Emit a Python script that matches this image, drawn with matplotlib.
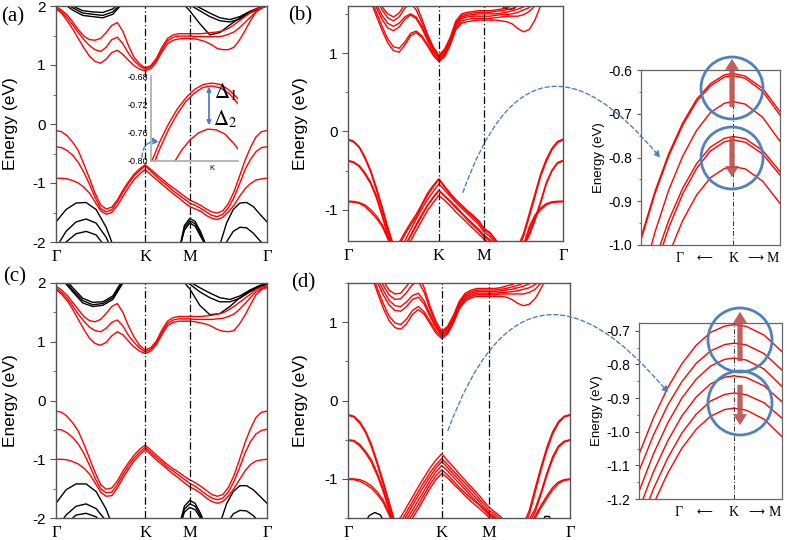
import matplotlib
matplotlib.use("Agg")
import matplotlib.pyplot as plt
from matplotlib.patches import Ellipse, FancyArrowPatch
from matplotlib.ticker import MultipleLocator, FormatStrFormatter

plt.rcParams["font.family"] = ["Liberation Sans", "DejaVu Sans"]
plt.rcParams["axes.unicode_minus"] = False
plt.rcParams["mathtext.fontset"] = "stix"

# k-path Γ-K-M-Γ
K_PATH = [0.0, 0.083, 0.167, 0.25, 0.333, 0.417, 0.5, 0.583, 0.667, 0.75, 0.833, 0.917, 1.0,
          1.083, 1.167, 1.25, 1.333,
          1.417, 1.5, 1.583, 1.667, 1.75, 1.833, 1.917, 2.0,
          2.0825, 2.165, 2.2475, 2.33, 2.4125, 2.495, 2.5775, 2.66, 2.7425, 2.825, 2.9075,
          2.99, 3.0725, 3.155]
K_SYM = [0.0, 1.333, 2.0, 3.155]
SYM_LABELS = ["Γ", "K", "M", "Γ"]

# ---- panel (a) ----
a_v1 = [-0.11, -0.13, -0.20, -0.31, -0.45, -0.68, -0.92, -1.17, -1.37, -1.44, -1.41, -1.29, -1.12, -0.98, -0.85, -0.76, -0.69,
        -0.77, -0.85, -0.93, -1.01, -1.08, -1.15, -1.22, -1.29,
        -1.33, -1.38, -1.44, -1.49, -1.51, -1.47, -1.35, -1.15, -0.89, -0.62, -0.40, -0.22, -0.13, -0.11]
a_v2 = [-0.385, -0.40, -0.45, -0.53, -0.65, -0.82, -1.02, -1.24, -1.43, -1.49, -1.45, -1.32, -1.16, -1.01, -0.88, -0.79, -0.71,
        -0.80, -0.89, -0.97, -1.05, -1.13, -1.20, -1.27, -1.34,
        -1.38, -1.43, -1.49, -1.55, -1.57, -1.53, -1.42, -1.25, -1.02, -0.78, -0.60, -0.47, -0.40, -0.385]
a_v3 = [-0.92, -0.92, -0.93, -0.96, -1.00, -1.07, -1.17, -1.32, -1.47, -1.53, -1.50, -1.38, -1.23, -1.08, -0.94, -0.85, -0.77,
        -0.86, -0.94, -1.02, -1.10, -1.18, -1.25, -1.33, -1.40,
        -1.44, -1.48, -1.55, -1.60, -1.62, -1.58, -1.49, -1.38, -1.23, -1.10, -1.01, -0.95, -0.93, -0.92]
a_c1 = [1.95, 1.88, 1.75, 1.61, 1.45, 1.29, 1.15, 1.06, 1.03, 1.10, 1.21, 1.25, 1.18, 1.08, 0.99, 0.93, 0.90,
        0.94, 1.05, 1.22, 1.36, 1.42, 1.44, 1.45, 1.45,
        1.44, 1.42, 1.39, 1.34, 1.28, 1.26, 1.26, 1.30, 1.42, 1.58, 1.75, 1.90, 1.98, 2.03]
a_c2 = [1.97, 1.90, 1.80, 1.68, 1.55, 1.43, 1.33, 1.26, 1.23, 1.30, 1.43, 1.47, 1.36, 1.20, 1.07, 0.98, 0.93,
        0.97, 1.08, 1.26, 1.41, 1.47, 1.49, 1.49, 1.49,
        1.48, 1.48, 1.48, 1.48, 1.48, 1.49, 1.52, 1.56, 1.63, 1.72, 1.81, 1.90, 1.96, 2.00]
a_c3 = [1.99, 1.93, 1.85, 1.73, 1.60, 1.49, 1.43, 1.42, 1.45, 1.55, 1.67, 1.72, 1.57, 1.33, 1.13, 1.02, 0.95,
        0.99, 1.11, 1.30, 1.45, 1.51, 1.53, 1.53, 1.53,
        1.53, 1.53, 1.54, 1.55, 1.56, 1.58, 1.62, 1.68, 1.75, 1.82, 1.89, 1.95, 1.98, 2.00]

k_top_left = [0.1, 0.25, 0.4, 0.55, 0.7, 0.85, 1.0]
k_top_right = [1.85, 2.0, 2.15, 2.3, 2.45, 2.6, 2.75, 2.9, 3.05, 3.155]
k_bot_left = [0.0, 0.15, 0.3, 0.45, 0.6, 0.75, 0.9]
k_bot_mid = [1.85, 1.92, 2.0, 2.08, 2.16, 2.26]
k_bot_right = [2.45, 2.55, 2.65, 2.75, 2.85, 2.95, 3.05, 3.155]

a_tl1 = [2.05, 1.93, 1.84, 1.82, 1.80, 1.86, 2.05]
a_tl2 = [2.08, 1.97, 1.88, 1.86, 1.84, 1.90, 2.08]
a_tl3 = [2.12, 2.00, 1.92, 1.90, 1.89, 1.95, 2.12]
a_tr1 = [2.10, 1.92, 1.70, 1.51, 1.55, 1.68, 1.80, 1.90, 1.97, 2.00]
a_tr2 = [2.12, 2.02, 1.92, 1.82, 1.75, 1.73, 1.78, 1.88, 1.96, 2.00]
a_tr3 = [2.15, 2.05, 1.97, 1.88, 1.80, 1.77, 1.82, 1.91, 1.98, 2.02]
a_bl1 = [-1.66, -1.45, -1.34, -1.33, -1.45, -1.75, -2.2]
a_bl2 = [-2.10, -1.82, -1.66, -1.61, -1.68, -1.92, -2.3]
a_bl3 = [-2.30, -2.00, -1.86, -1.82, -1.88, -2.10, -2.4]
a_bm1 = [-2.1, -1.72, -1.60, -1.65, -1.82, -2.1]
a_bm2 = [-2.1, -1.76, -1.64, -1.69, -1.86, -2.1]
a_bm3 = [-2.1, -1.80, -1.68, -1.73, -1.90, -2.1]
a_br1 = [-2.05, -1.68, -1.45, -1.34, -1.33, -1.40, -1.53, -1.66]
a_br2 = [-2.30, -2.00, -1.82, -1.75, -1.76, -1.85, -1.98, -2.10]

# inset of (a): valence top at K
ia_x1 = [0.01, 0.1, 0.2, 0.3, 0.4, 0.5, 0.6, 0.7, 0.8, 0.9, 1.0]
ia_e1 = [-0.800, -0.773, -0.748, -0.727, -0.711, -0.699, -0.692, -0.690, -0.692, -0.700, -0.712]
ia_x2 = [0.046, 0.1, 0.2, 0.3, 0.4, 0.5, 0.6, 0.7, 0.8, 0.9, 1.0]
ia_e2 = [-0.800, -0.783, -0.756, -0.734, -0.716, -0.704, -0.696, -0.694, -0.697, -0.705, -0.719]
ia_x3 = [0.276, 0.35, 0.45, 0.55, 0.65, 0.75, 0.85, 0.95, 1.0]
ia_e3 = [-0.800, -0.785, -0.770, -0.760, -0.755, -0.756, -0.762, -0.775, -0.783]

# ---- panel (b) ----
b_v1 = [-0.10, -0.125, -0.20, -0.33, -0.50, -0.72, -0.96, -1.22, -1.45, -1.42, -1.29, -1.17, -1.06, -0.93, -0.79, -0.69, -0.605,
        -0.70, -0.79, -0.87, -0.94, -1.01, -1.07, -1.14, -1.24,
        -1.29, -1.38, -1.48, -1.53, -1.53, -1.47, -1.30, -1.05, -0.80, -0.55, -0.36, -0.22, -0.13, -0.10]
b_v2 = [-0.11, -0.135, -0.21, -0.35, -0.52, -0.75, -0.99, -1.25, -1.48, -1.46, -1.32, -1.20, -1.09, -0.95, -0.82, -0.71, -0.615,
        -0.715, -0.805, -0.885, -0.955, -1.025, -1.09, -1.16, -1.26,
        -1.31, -1.40, -1.50, -1.56, -1.56, -1.51, -1.34, -1.09, -0.84, -0.58, -0.39, -0.24, -0.145, -0.11]
b_v3 = [-0.37, -0.39, -0.44, -0.53, -0.65, -0.82, -1.05, -1.30, -1.50, -1.52, -1.40, -1.26, -1.12, -0.99, -0.87, -0.77, -0.67,
        -0.75, -0.83, -0.91, -0.98, -1.05, -1.12, -1.19, -1.29,
        -1.34, -1.43, -1.52, -1.58, -1.58, -1.53, -1.44, -1.30, -1.12, -0.90, -0.66, -0.50, -0.40, -0.37]
b_v4 = [-0.38, -0.40, -0.45, -0.55, -0.67, -0.85, -1.08, -1.33, -1.53, -1.56, -1.46, -1.33, -1.19, -1.06, -0.94, -0.84, -0.75,
        -0.82, -0.89, -0.96, -1.04, -1.11, -1.18, -1.25, -1.33,
        -1.38, -1.46, -1.55, -1.61, -1.61, -1.56, -1.47, -1.33, -1.14, -0.92, -0.68, -0.51, -0.41, -0.38]
b_v5 = [-0.89, -0.895, -0.91, -0.94, -1.00, -1.08, -1.19, -1.34, -1.52, -1.57, -1.47, -1.34, -1.21, -1.08, -0.95, -0.85, -0.76,
        -0.83, -0.90, -0.98, -1.05, -1.13, -1.20, -1.27, -1.35,
        -1.40, -1.47, -1.56, -1.63, -1.63, -1.58, -1.45, -1.22, -1.07, -0.98, -0.925, -0.90, -0.893, -0.89]
b_v6 = [-0.90, -0.905, -0.92, -0.96, -1.03, -1.11, -1.21, -1.37, -1.55, -1.61, -1.52, -1.40, -1.27, -1.14, -1.01, -0.91, -0.82,
        -0.88, -0.95, -1.03, -1.10, -1.17, -1.24, -1.31, -1.38,
        -1.43, -1.50, -1.59, -1.66, -1.66, -1.61, -1.48, -1.25, -1.10, -1.00, -0.94, -0.91, -0.903, -0.90]
b_c1 = [2.10, 2.05, 1.95, 1.82, 1.66, 1.47, 1.29, 1.13, 1.03, 1.01, 1.10, 1.22, 1.26, 1.20, 1.09, 0.97, 0.89,
        0.95, 1.10, 1.30, 1.38, 1.40, 1.41, 1.42, 1.42,
        1.42, 1.42, 1.41, 1.40, 1.37, 1.31, 1.27, 1.30, 1.42, 1.60, 1.78, 1.92, 2.00, 2.05]
b_c2 = [2.10, 2.06, 1.97, 1.85, 1.70, 1.52, 1.34, 1.18, 1.08, 1.06, 1.14, 1.25, 1.28, 1.22, 1.11, 0.99, 0.91,
        0.97, 1.12, 1.32, 1.41, 1.43, 1.44, 1.44, 1.44,
        1.44, 1.45, 1.46, 1.47, 1.47, 1.47, 1.49, 1.53, 1.60, 1.68, 1.78, 1.90, 2.00, 2.05]
b_c3 = [2.15, 2.10, 2.02, 1.90, 1.75, 1.58, 1.43, 1.32, 1.285, 1.33, 1.43, 1.485, 1.44, 1.32, 1.16, 1.02, 0.93,
        0.99, 1.14, 1.35, 1.44, 1.46, 1.47, 1.47, 1.47,
        1.47, 1.48, 1.49, 1.49, 1.50, 1.52, 1.55, 1.58, 1.64, 1.72, 1.82, 1.93, 2.02, 2.10]
b_c4 = [2.15, 2.12, 2.05, 1.93, 1.78, 1.62, 1.48, 1.38, 1.34, 1.38, 1.46, 1.50, 1.46, 1.34, 1.18, 1.04, 0.95,
        1.01, 1.16, 1.37, 1.46, 1.48, 1.49, 1.50, 1.50,
        1.50, 1.50, 1.51, 1.52, 1.54, 1.56, 1.59, 1.62, 1.68, 1.76, 1.86, 1.95, 2.04, 2.10]
b_c5 = [2.20, 2.15, 2.08, 1.97, 1.83, 1.68, 1.55, 1.45, 1.41, 1.46, 1.57, 1.64, 1.55, 1.39, 1.21, 1.06, 0.96,
        1.03, 1.18, 1.39, 1.48, 1.50, 1.51, 1.52, 1.52,
        1.52, 1.53, 1.54, 1.55, 1.57, 1.60, 1.63, 1.67, 1.72, 1.80, 1.89, 1.98, 2.06, 2.12]
b_c6 = [2.20, 2.17, 2.10, 2.00, 1.87, 1.72, 1.59, 1.50, 1.46, 1.51, 1.62, 1.71, 1.62, 1.44, 1.24, 1.08, 0.97,
        1.05, 1.20, 1.41, 1.50, 1.52, 1.53, 1.54, 1.54,
        1.54, 1.55, 1.56, 1.58, 1.60, 1.63, 1.67, 1.71, 1.77, 1.85, 1.94, 2.02, 2.10, 2.15]
k_b_black = [2.22, 2.30, 2.37, 2.44, 2.52]
b_black = [1.64, 1.57, 1.555, 1.57, 1.64]

# inset of (b)
inset_x = [0.0, 0.1, 0.2, 0.3, 0.4, 0.5, 0.6, 0.664, 0.75, 0.875, 1.0]
ib_1 = [-0.983, -0.878, -0.791, -0.721, -0.667, -0.631, -0.611, -0.608, -0.614, -0.642, -0.695]
ib_2 = [-0.988, -0.883, -0.796, -0.726, -0.672, -0.636, -0.616, -0.613, -0.619, -0.649, -0.703]
ib_3 = [-1.087, -0.971, -0.874, -0.797, -0.738, -0.697, -0.676, -0.672, -0.678, -0.708, -0.763]
ib_4 = [-1.145, -1.035, -0.943, -0.870, -0.814, -0.776, -0.756, -0.752, -0.757, -0.784, -0.832]
ib_5 = [-1.170, -1.056, -0.960, -0.883, -0.825, -0.785, -0.764, -0.760, -0.765, -0.792, -0.840]
ib_6 = [-1.231, -1.117, -1.021, -0.944, -0.886, -0.846, -0.825, -0.821, -0.826, -0.854, -0.905]

# ---- panel (c) ----
c_v1 = [-0.18, -0.20, -0.27, -0.38, -0.52, -0.74, -0.98, -1.22, -1.43, -1.51, -1.49, -1.37, -1.20, -1.06, -0.93, -0.83, -0.76,
        -0.84, -0.93, -1.01, -1.09, -1.16, -1.22, -1.29, -1.35,
        -1.40, -1.46, -1.53, -1.60, -1.63, -1.60, -1.48, -1.28, -1.01, -0.72, -0.48, -0.29, -0.20, -0.18]
c_v2 = [-0.49, -0.50, -0.55, -0.63, -0.74, -0.90, -1.10, -1.32, -1.50, -1.57, -1.56, -1.43, -1.26, -1.11, -0.98, -0.88, -0.80,
        -0.88, -0.97, -1.05, -1.13, -1.20, -1.27, -1.34, -1.41,
        -1.46, -1.53, -1.60, -1.66, -1.69, -1.66, -1.56, -1.38, -1.15, -0.90, -0.70, -0.57, -0.51, -0.49]
c_v3 = [-1.00, -1.00, -1.01, -1.04, -1.08, -1.15, -1.25, -1.40, -1.56, -1.63, -1.62, -1.49, -1.32, -1.17, -1.03, -0.92, -0.84,
        -0.92, -1.01, -1.09, -1.17, -1.25, -1.32, -1.40, -1.47,
        -1.52, -1.58, -1.66, -1.72, -1.75, -1.72, -1.63, -1.50, -1.35, -1.20, -1.09, -1.03, -1.01, -1.00]
c_c1 = [1.89, 1.81, 1.70, 1.55, 1.38, 1.21, 1.06, 0.97, 0.94, 0.99, 1.10, 1.17, 1.12, 1.01, 0.91, 0.84, 0.80,
        0.84, 0.95, 1.12, 1.27, 1.33, 1.35, 1.35, 1.35,
        1.34, 1.32, 1.30, 1.26, 1.21, 1.18, 1.17, 1.19, 1.30, 1.45, 1.63, 1.80, 1.89, 1.92]
c_c2 = [1.92, 1.84, 1.74, 1.61, 1.47, 1.35, 1.25, 1.19, 1.17, 1.23, 1.33, 1.37, 1.27, 1.11, 0.99, 0.89, 0.83,
        0.87, 0.98, 1.16, 1.31, 1.37, 1.39, 1.39, 1.39,
        1.38, 1.38, 1.38, 1.38, 1.39, 1.40, 1.43, 1.47, 1.55, 1.65, 1.75, 1.85, 1.91, 1.93]
c_c3 = [1.95, 1.88, 1.79, 1.67, 1.55, 1.43, 1.36, 1.34, 1.38, 1.48, 1.60, 1.65, 1.50, 1.27, 1.08, 0.94, 0.86,
        0.90, 1.01, 1.20, 1.35, 1.41, 1.43, 1.43, 1.43,
        1.43, 1.43, 1.44, 1.45, 1.47, 1.49, 1.54, 1.60, 1.67, 1.74, 1.81, 1.89, 1.93, 1.95]
c_tl1 = [2.05, 1.85, 1.66, 1.60, 1.62, 1.72, 2.00]
c_tl2 = [2.08, 1.88, 1.70, 1.63, 1.65, 1.75, 2.03]
c_tl3 = [2.12, 1.92, 1.74, 1.67, 1.68, 1.78, 2.06]
c_tr1 = [2.10, 1.90, 1.62, 1.46, 1.48, 1.60, 1.75, 1.87, 1.95, 1.98]
c_tr2 = [2.12, 1.98, 1.85, 1.75, 1.68, 1.68, 1.74, 1.85, 1.94, 1.98]
c_tr3 = [2.15, 2.02, 1.92, 1.83, 1.75, 1.72, 1.78, 1.88, 1.96, 2.00]
c_bl1 = [-1.75, -1.52, -1.42, -1.42, -1.55, -1.85, -2.3]
c_bl2 = [-2.20, -1.95, -1.80, -1.76, -1.84, -2.05, -2.4]
c_bl3 = [-2.40, -2.10, -1.95, -1.92, -1.98, -2.20, -2.5]
c_bm1 = [-2.10, -1.80, -1.70, -1.75, -1.92, -2.2]
c_bm2 = [-2.10, -1.85, -1.76, -1.80, -1.96, -2.2]
c_bm3 = [-2.15, -1.90, -1.82, -1.86, -2.00, -2.2]
c_br1 = [-2.10, -1.76, -1.55, -1.45, -1.45, -1.52, -1.63, -1.75]
c_br2 = [-2.40, -2.10, -1.93, -1.87, -1.88, -1.96, -2.08, -2.20]

# ---- panel (d) ----
d_v1 = [-0.18, -0.20, -0.27, -0.39, -0.56, -0.79, -1.03, -1.29, -1.55, -1.49, -1.36, -1.23, -1.10, -0.98, -0.86, -0.76, -0.68,
        -0.77, -0.85, -0.94, -1.02, -1.10, -1.18, -1.27, -1.36,
        -1.42, -1.48, -1.56, -1.62, -1.63, -1.58, -1.40, -1.12, -0.85, -0.60, -0.40, -0.27, -0.20, -0.18]
d_v2 = [-0.19, -0.21, -0.29, -0.41, -0.59, -0.82, -1.07, -1.33, -1.58, -1.55, -1.42, -1.29, -1.16, -1.04, -0.92, -0.82, -0.74,
        -0.82, -0.90, -0.98, -1.06, -1.14, -1.22, -1.31, -1.40,
        -1.45, -1.51, -1.59, -1.65, -1.66, -1.62, -1.45, -1.17, -0.89, -0.64, -0.43, -0.29, -0.21, -0.19]
d_v3 = [-0.50, -0.51, -0.56, -0.65, -0.76, -0.93, -1.13, -1.37, -1.60, -1.59, -1.47, -1.34, -1.21, -1.09, -0.97, -0.86, -0.78,
        -0.86, -0.94, -1.02, -1.10, -1.18, -1.26, -1.35, -1.43,
        -1.48, -1.54, -1.62, -1.68, -1.69, -1.65, -1.52, -1.38, -1.17, -0.93, -0.72, -0.58, -0.52, -0.50]
d_v4 = [-0.51, -0.52, -0.58, -0.67, -0.79, -0.96, -1.16, -1.40, -1.63, -1.63, -1.52, -1.40, -1.27, -1.15, -1.02, -0.91, -0.83,
        -0.90, -0.98, -1.06, -1.14, -1.22, -1.30, -1.38, -1.46,
        -1.51, -1.57, -1.65, -1.71, -1.72, -1.68, -1.56, -1.42, -1.20, -0.96, -0.75, -0.60, -0.53, -0.51]
d_v5 = [-1.00, -1.00, -1.01, -1.04, -1.09, -1.17, -1.27, -1.43, -1.62, -1.66, -1.57, -1.45, -1.33, -1.20, -1.07, -0.96, -0.885,
        -0.95, -1.03, -1.11, -1.18, -1.25, -1.31, -1.38, -1.45,
        -1.50, -1.58, -1.66, -1.74, -1.75, -1.70, -1.60, -1.47, -1.34, -1.22, -1.11, -1.04, -1.01, -1.00]
d_v6 = [-1.01, -1.01, -1.03, -1.07, -1.12, -1.20, -1.30, -1.46, -1.65, -1.70, -1.62, -1.50, -1.38, -1.25, -1.12, -1.01, -0.93,
        -0.99, -1.07, -1.14, -1.22, -1.29, -1.35, -1.42, -1.49,
        -1.54, -1.61, -1.69, -1.77, -1.78, -1.73, -1.63, -1.50, -1.37, -1.25, -1.14, -1.06, -1.02, -1.01]
d_c1 = [2.10, 2.02, 1.93, 1.78, 1.60, 1.38, 1.18, 1.02, 0.93, 0.91, 0.98, 1.10, 1.16, 1.10, 0.98, 0.86, 0.79,
        0.85, 0.99, 1.17, 1.27, 1.31, 1.33, 1.33, 1.33,
        1.33, 1.33, 1.32, 1.29, 1.24, 1.21, 1.23, 1.30, 1.43, 1.58, 1.75, 1.90, 2.00, 2.05]
d_c2 = [2.10, 2.03, 1.95, 1.81, 1.64, 1.43, 1.24, 1.08, 0.99, 0.97, 1.04, 1.15, 1.20, 1.13, 1.01, 0.89, 0.81,
        0.87, 1.01, 1.19, 1.29, 1.33, 1.35, 1.35, 1.35,
        1.35, 1.36, 1.36, 1.36, 1.36, 1.36, 1.38, 1.42, 1.50, 1.60, 1.72, 1.85, 1.97, 2.05]
d_c3 = [2.15, 2.07, 1.98, 1.86, 1.70, 1.51, 1.35, 1.22, 1.15, 1.14, 1.20, 1.29, 1.32, 1.23, 1.07, 0.93, 0.83,
        0.89, 1.03, 1.21, 1.31, 1.35, 1.37, 1.37, 1.37,
        1.37, 1.38, 1.38, 1.39, 1.40, 1.42, 1.44, 1.48, 1.55, 1.64, 1.76, 1.88, 1.99, 2.08]
d_c4 = [2.15, 2.08, 2.00, 1.89, 1.74, 1.56, 1.41, 1.28, 1.21, 1.20, 1.26, 1.34, 1.37, 1.27, 1.10, 0.95, 0.85,
        0.91, 1.05, 1.23, 1.33, 1.37, 1.39, 1.39, 1.39,
        1.39, 1.40, 1.41, 1.42, 1.44, 1.46, 1.49, 1.53, 1.60, 1.68, 1.79, 1.90, 2.01, 2.10]
d_c5 = [2.20, 2.12, 2.04, 1.93, 1.79, 1.62, 1.47, 1.35, 1.29, 1.30, 1.38, 1.48, 1.52, 1.38, 1.16, 0.98, 0.87,
        0.93, 1.07, 1.25, 1.35, 1.39, 1.41, 1.41, 1.41,
        1.41, 1.42, 1.43, 1.45, 1.47, 1.50, 1.54, 1.58, 1.65, 1.73, 1.83, 1.94, 2.04, 2.12]
d_c6 = [2.20, 2.14, 2.07, 1.97, 1.84, 1.68, 1.53, 1.41, 1.36, 1.37, 1.46, 1.56, 1.60, 1.44, 1.20, 1.01, 0.88,
        0.95, 1.09, 1.27, 1.37, 1.41, 1.43, 1.43, 1.43,
        1.43, 1.44, 1.46, 1.48, 1.51, 1.54, 1.58, 1.63, 1.70, 1.78, 1.88, 1.98, 2.07, 2.15]
k_d_black_l = [0.22, 0.30, 0.38, 0.46, 0.54]
d_black_l = [-1.60, -1.47, -1.43, -1.46, -1.60]
k_d_black_r = [2.74, 2.80, 2.86, 2.92]
d_black_r = [-1.60, -1.48, -1.48, -1.60]

# inset of (d)
id_1 = [-1.067, -0.960, -0.870, -0.798, -0.743, -0.705, -0.686, -0.682, -0.687, -0.713, -0.762]
id_2 = [-1.117, -1.011, -0.922, -0.851, -0.797, -0.760, -0.741, -0.737, -0.742, -0.768, -0.817]
id_3 = [-1.178, -1.067, -0.975, -0.900, -0.844, -0.805, -0.785, -0.781, -0.787, -0.814, -0.866]
id_4 = [-1.231, -1.120, -1.028, -0.953, -0.897, -0.858, -0.838, -0.834, -0.839, -0.864, -0.911]
id_5 = [-1.282, -1.171, -1.079, -1.004, -0.948, -0.909, -0.889, -0.885, -0.890, -0.914, -0.960]
id_6 = [-1.327, -1.216, -1.124, -1.049, -0.993, -0.954, -0.934, -0.930, -0.936, -0.963, -1.015]
INSET_K = 0.664

W, H = 787, 540
BLUE = "#4f81bd"
BROWN = "#b9504b"
SPINE = "#555555"
SERIF = ["Liberation Serif", "DejaVu Serif"]


def box(left, top, right, bottom):
    return [left / W, 1 - bottom / H, (right - left) / W, (bottom - top) / H]


def frac(x, y):
    return (x / W, 1 - y / H)


def style_spines(ax, color=SPINE, lw=1.0):
    for sp in ax.spines.values():
        sp.set_color(color)
        sp.set_linewidth(lw)


def band_panel(fig, rect, red, black, ylim, label, label_xy, ylabel_x):
    ax = fig.add_axes(box(*rect))
    for k, e in black:
        ax.plot(k, e, color="black", lw=1.0)
    for e in red:
        ax.plot(K_PATH, e, color="red", lw=1.0)
    for k in K_SYM[1:3]:
        ax.axvline(k, color="black", lw=0.9, ls=(0, (6, 2, 1, 2)))
    ax.set_xlim(K_SYM[0], K_SYM[-1])
    ax.set_ylim(*ylim)
    ax.set_xticks(K_SYM)
    ax.set_xticklabels(SYM_LABELS, family=SERIF, fontsize=12)
    ax.tick_params(axis="x", length=0, pad=5)
    ax.yaxis.set_major_locator(MultipleLocator(1))
    ax.yaxis.set_minor_locator(MultipleLocator(0.5))
    ax.yaxis.set_major_formatter(FormatStrFormatter("%d"))
    ax.tick_params(axis="y", which="major", direction="out", length=4, labelsize=11, color=SPINE)
    ax.tick_params(axis="y", which="minor", direction="out", length=2.5, color=SPINE)
    style_spines(ax)
    ax.set_ylabel("Energy (eV)", fontsize=12.5)
    ax.yaxis.set_label_coords((ylabel_x - rect[0]) / (rect[2] - rect[0]), 0.5)
    fig.text(*frac(*label_xy), label, family=SERIF, fontsize=15, ha="center", va="center")
    return ax


def zoom_inset(fig, rect, curves, ylim, step, fmt, labels_y):
    ax = fig.add_axes(box(*rect))
    for e in curves:
        ax.plot(inset_x, e, color="red", lw=1.0)
    ax.axvline(INSET_K, color="#333333", lw=0.7, ls=(0, (5, 2, 1, 2)))
    ax.set_xlim(0, 1)
    ax.set_ylim(*ylim)
    ax.set_xticks([])
    ax.yaxis.set_major_locator(MultipleLocator(step))
    ax.yaxis.set_minor_locator(MultipleLocator(step / 2))
    ax.yaxis.set_major_formatter(FormatStrFormatter(fmt))
    ax.tick_params(axis="y", which="major", direction="out", length=3, labelsize=10, color=SPINE)
    ax.tick_params(axis="y", which="minor", direction="out", length=1.5, color=SPINE)
    style_spines(ax, "#666666", 0.9)
    ax.set_ylabel("Energy (eV)", fontsize=9.5, labelpad=2)
    xs = [0.28, 0.46, 0.664, 0.82, 0.95]
    for x, t in zip(xs, ["Γ", "⟵", "K", "⟶", "M"]):
        fam = SERIF if t in "ΓKM" else ["DejaVu Sans"]
        ax.text(x, labels_y, t, transform=ax.transAxes, ha="center", va="center",
                family=fam, fontsize=10 if t in "ΓKM" else 8)
    return ax


def circle(fig, cx, cy, r):
    fig.add_artist(Ellipse(frac(cx, cy), 2 * r / W, 2 * r / H, transform=fig.transFigure,
                           fill=False, edgecolor=BLUE, lw=2.0))


def thick_arrow(fig, x, y0, y1):
    fig.add_artist(FancyArrowPatch(frac(x, y0), frac(x, y1), transform=fig.transFigure,
                                   arrowstyle="simple,head_width=1.0,head_length=0.8,tail_width=0.38",
                                   mutation_scale=10, color=BROWN, alpha=0.9, lw=0))


def dashed_link(fig, p0, p1, rad):
    fig.add_artist(FancyArrowPatch(frac(*p0), frac(*p1), transform=fig.transFigure,
                                   connectionstyle=f"arc3,rad={rad}", arrowstyle="-|>",
                                   mutation_scale=9, color=BLUE, lw=1.0, ls=(0, (3, 2))))


fig = plt.figure(figsize=(W / 100, H / 100), dpi=100)

# (a)
ax_a = band_panel(
    fig, (56, 6, 267, 242), [a_v1, a_v2, a_v3, a_c1, a_c2, a_c3],
    [(k_top_left, a_tl1), (k_top_left, a_tl2), (k_top_left, a_tl3),
     (k_top_right, a_tr1), (k_top_right, a_tr2), (k_top_right, a_tr3),
     (k_bot_left, a_bl1), (k_bot_left, a_bl2), (k_bot_left, a_bl3),
     (k_bot_mid, a_bm1), (k_bot_mid, a_bm2), (k_bot_mid, a_bm3),
     (k_bot_right, a_br1), (k_bot_right, a_br2)],
    (-2, 2), "(a)", (13, 17), 18)

ax_ia = fig.add_axes(box(151, 76, 238, 161))
ax_ia.patch.set_alpha(0)
for x, e in [(ia_x1, ia_e1), (ia_x2, ia_e2), (ia_x3, ia_e3)]:
    ax_ia.plot(x, e, color="red", lw=1.0)
ax_ia.set_xlim(0, 1)
ax_ia.set_ylim(-0.80, -0.68)
ax_ia.set_yticks([-0.80, -0.76, -0.72, -0.68])
ax_ia.yaxis.set_major_formatter(FormatStrFormatter("%.2f"))
ax_ia.set_xticks([])
ax_ia.tick_params(axis="y", length=0, pad=2, labelsize=6.5)
for s in ["top", "right"]:
    ax_ia.spines[s].set_visible(False)
for s in ["left", "bottom"]:
    ax_ia.spines[s].set_color("#aaaaaa")
    ax_ia.spines[s].set_linewidth(1.2)
ax_ia.text(0.70, -0.09, "K", transform=ax_ia.transAxes, ha="center", va="center", fontsize=5.5)
fig.add_artist(FancyArrowPatch(frac(209, 84), frac(209, 128), transform=fig.transFigure,
                               arrowstyle="<|-|>", mutation_scale=6, color=BLUE, lw=1.3))
fig.text(*frac(226, 92), r"$\Delta_1$", fontsize=15, ha="center", va="center")
fig.text(*frac(225, 119), r"$\Delta_2$", fontsize=15, ha="center", va="center")
dashed_link(fig, (142, 160), (162, 142), -0.6)

# (b)
ax_b = band_panel(
    fig, (348, 6, 563, 241), [b_v1, b_v2, b_v3, b_v4, b_v5, b_v6, b_c1, b_c2, b_c3, b_c4, b_c5, b_c6],
    [(k_b_black, b_black)], (-1.4, 1.6), "(b)", (300, 16), 308)
ax_ib = zoom_inset(fig, (641, 70, 780, 245), [ib_1, ib_2, ib_3, ib_4, ib_5, ib_6],
                   (-1.0, -0.6), 0.1, "%.1f", -0.075)
circle(fig, 732, 88, 31)
circle(fig, 732, 158, 31)
thick_arrow(fig, 732, 110, 56)
thick_arrow(fig, 732, 135, 180)
dashed_link(fig, (462, 195), (662, 160), -0.9)

# (c)
ax_c = band_panel(
    fig, (56, 283, 267, 518), [c_v1, c_v2, c_v3, c_c1, c_c2, c_c3],
    [(k_top_left, c_tl1), (k_top_left, c_tl2), (k_top_left, c_tl3),
     (k_top_right, c_tr1), (k_top_right, c_tr2), (k_top_right, c_tr3),
     (k_bot_left, c_bl1), (k_bot_left, c_bl2), (k_bot_left, c_bl3),
     (k_bot_mid, c_bm1), (k_bot_mid, c_bm2), (k_bot_mid, c_bm3),
     (k_bot_right, c_br1), (k_bot_right, c_br2)],
    (-2, 2), "(c)", (15, 277), 18)

# (d)
ax_d = band_panel(
    fig, (348, 283, 570, 518), [d_v1, d_v2, d_v3, d_v4, d_v5, d_v6, d_c1, d_c2, d_c3, d_c4, d_c5, d_c6],
    [(k_d_black_l, d_black_l), (k_d_black_r, d_black_r)], (-1.5, 1.5), "(d)", (303, 283), 308)
ax_id = zoom_inset(fig, (639, 323, 782, 499), [id_1, id_2, id_3, id_4, id_5, id_6],
                   (-1.2, -0.677), 0.1, "%.1f", -0.075)
circle(fig, 740, 340, 32)
circle(fig, 740, 403, 32)
thick_arrow(fig, 740, 364, 309)
thick_arrow(fig, 740, 382, 428)
dashed_link(fig, (447, 433), (670, 395), -0.88)

fig.savefig("out.png", dpi=100)
